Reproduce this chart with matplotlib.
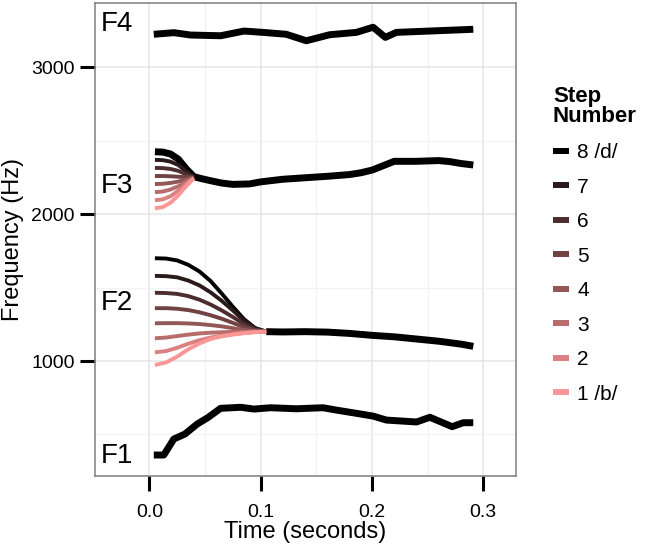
import matplotlib
matplotlib.use("Agg")
import matplotlib.pyplot as plt
from matplotlib.lines import Line2D
from matplotlib.ticker import MultipleLocator

plt.rcParams["font.family"] = ["Liberation Sans", "DejaVu Sans"]

# F1 and F4: single black tracks
f1_t = [0.004, 0.013, 0.022, 0.032, 0.043, 0.053, 0.064, 0.082, 0.094, 0.109, 0.132,
        0.156, 0.168, 0.186, 0.201, 0.213, 0.240, 0.252, 0.272, 0.282, 0.291]
f1_hz = [360, 360, 469, 503, 571, 617, 678, 685, 673, 682, 675,
         682, 666, 644, 625, 598, 585, 617, 553, 580, 580]

f4_t = [0.004, 0.022, 0.037, 0.064, 0.085, 0.102, 0.123, 0.141, 0.162, 0.186,
        0.201, 0.212, 0.222, 0.291]
f4_hz = [3225, 3236, 3220, 3215, 3247, 3238, 3225, 3181, 3222, 3238,
         3273, 3204, 3238, 3259]

# F2 transitions, steps 1..8
f2_t = [0.005, 0.015, 0.025, 0.035, 0.045, 0.055, 0.065, 0.075, 0.085, 0.095, 0.105]
f2_steps = [
    [973, 990, 1030, 1080, 1120, 1150, 1168, 1180, 1190, 1197, 1200],
    [1059, 1068, 1090, 1118, 1142, 1160, 1173, 1183, 1191, 1197, 1200],
    [1155, 1160, 1170, 1180, 1188, 1193, 1196, 1198, 1199, 1200, 1200],
    [1257, 1258, 1258, 1256, 1252, 1245, 1236, 1224, 1212, 1203, 1200],
    [1360, 1360, 1356, 1347, 1332, 1312, 1288, 1260, 1232, 1210, 1200],
    [1465, 1463, 1457, 1442, 1418, 1385, 1345, 1300, 1252, 1215, 1200],
    [1580, 1578, 1570, 1548, 1515, 1468, 1410, 1345, 1275, 1222, 1200],
    [1700, 1698, 1685, 1655, 1610, 1545, 1460, 1370, 1285, 1225, 1200],
]
f2_tail_t = [0.105, 0.12, 0.14, 0.16, 0.18, 0.20, 0.22, 0.24, 0.26, 0.28, 0.291]
f2_tail_hz = [1200, 1198, 1200, 1197, 1188, 1175, 1165, 1150, 1135, 1115, 1100]

# F3 transitions, steps 1..8
f3_t = [0.005, 0.012, 0.019, 0.026, 0.033, 0.040]
f3_steps = [
    [2040, 2048, 2078, 2128, 2190, 2245],
    [2095, 2101, 2122, 2160, 2206, 2246],
    [2150, 2154, 2168, 2190, 2220, 2247],
    [2205, 2207, 2213, 2222, 2236, 2248],
    [2260, 2260, 2258, 2255, 2252, 2249],
    [2315, 2314, 2308, 2295, 2272, 2250],
    [2370, 2368, 2358, 2335, 2292, 2252],
    [2425, 2423, 2410, 2375, 2310, 2255],
]
f3_tail_t = [0.040, 0.048, 0.055, 0.065, 0.075, 0.09, 0.10, 0.12, 0.14, 0.16, 0.18,
             0.19, 0.20, 0.21, 0.22, 0.24, 0.26, 0.27, 0.28, 0.291]
f3_tail_hz = [2255, 2240, 2228, 2212, 2203, 2206, 2220, 2238, 2248, 2258, 2270,
              2282, 2300, 2330, 2360, 2360, 2365, 2358, 2345, 2335]

step_labels = ["1 /b/", "2", "3", "4", "5", "6", "7", "8 /d/"]
step_colors = ["#FA9696", "#DC8181", "#B86C6C", "#945757",
               "#704242", "#4D2E2E", "#2B1A1A", "#000000"]

formant_labels = ["F1", "F2", "F3", "F4"]
label_pos = [(-0.029, 353), (-0.029, 1395), (-0.029, 2195), (-0.029, 3295)]


def main():
    fig = plt.figure(figsize=(6.49, 5.5), dpi=100)
    ax = fig.add_axes([0.1464, 0.1345, 0.6482, 0.8595])

    thick = 5.0
    ax.plot(f1_t, f1_hz, color="black", lw=thick, solid_capstyle="butt", zorder=3)
    ax.plot(f4_t, f4_hz, color="black", lw=thick, solid_capstyle="butt", zorder=3)
    ax.plot(f2_tail_t, f2_tail_hz, color="black", lw=thick, solid_capstyle="butt", zorder=3)
    ax.plot(f3_t + f3_tail_t[1:], f3_steps[7] + f3_tail_hz[1:], color="black",
            lw=thick, solid_capstyle="butt", zorder=3)

    # transitions: darkest first so lighter steps sit on top
    for i in range(7, -1, -1):
        ax.plot(f2_t, f2_steps[i], color=step_colors[i], lw=2.8,
                solid_capstyle="butt", zorder=4)
        if i < 7:
            ax.plot(f3_t, f3_steps[i], color=step_colors[i], lw=2.8,
                    solid_capstyle="butt", zorder=4)

    for lab, (x, y) in zip(formant_labels, label_pos):
        ax.text(x, y, lab, fontsize=20, ha="center", va="center", zorder=5)

    ax.set_xlim(-0.0488, 0.3291)
    ax.set_ylim(217, 3436)
    ax.xaxis.set_major_locator(MultipleLocator(0.1))
    ax.xaxis.set_minor_locator(MultipleLocator(0.05))
    ax.yaxis.set_major_locator(MultipleLocator(1000))
    ax.yaxis.set_minor_locator(MultipleLocator(500))
    ax.xaxis.set_major_formatter(plt.FuncFormatter(lambda v, p: f"{v:.1f}"))

    ax.grid(which="major", color="#e5e5e5", lw=1.1)
    ax.grid(which="minor", color="#f2f2f2", lw=0.9)
    ax.set_axisbelow(True)
    for s in ax.spines.values():
        s.set_color("#7f7f7f")
        s.set_linewidth(1.1)

    ax.tick_params(which="major", length=10.5, width=2.2, color="black",
                   labelsize=14, pad=4)
    ax.tick_params(axis="x", which="major", pad=10)
    ax.tick_params(which="minor", length=0)

    ax.set_xlabel("Time (seconds)", fontsize=17, labelpad=0)
    ax.set_ylabel("Frequency (Hz)", fontsize=17, labelpad=5)

    # legend title drawn on its own, entries below
    fig.text(553 / 649, 1 - 86 / 550, "Step\nNumber", fontsize=16, weight="bold",
             ha="left", va="top", linespacing=0.95)
    handles = [Line2D([], [], color=step_colors[i], lw=4.3, solid_capstyle="butt")
               for i in range(7, -1, -1)]
    labels = [step_labels[i] for i in range(7, -1, -1)]
    fig.legend(handles, labels, loc="upper left",
               bbox_to_anchor=(553 / 649, 1 - 143 / 550), frameon=False, fontsize=15,
               handlelength=0.77, handletextpad=0.4, labelspacing=0.745,
               borderaxespad=0, borderpad=0)

    fig.savefig("out.png", dpi=100)


if __name__ == "__main__":
    main()
